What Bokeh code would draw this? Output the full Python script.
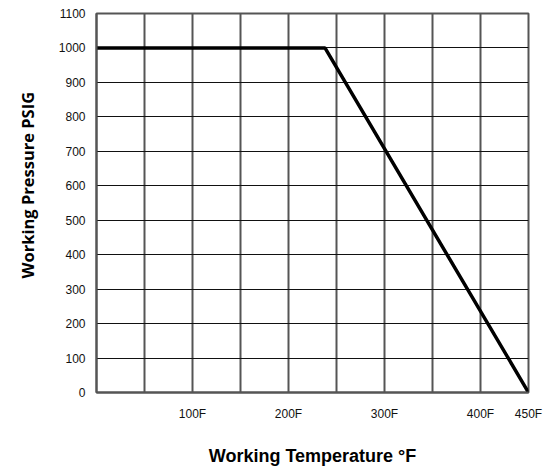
from bokeh.plotting import figure
from bokeh.models import FixedTicker, Title, Range1d
from bokeh.embed import file_html
from bokeh.resources import INLINE

temps = [0, 238, 450]
pressure = [1000, 1000, 0]
x_label_ticks = [100, 200, 300, 400, 450]
x_label_text = ["100F", "200F", "300F", "400F", "450F"]
x_grid_ticks = [0, 50, 100, 150, 200, 250, 300, 350, 400, 450]
y_ticks = [0, 100, 200, 300, 400, 500, 600, 700, 800, 900, 1000, 1100]

p = figure(output_backend="svg", toolbar_location=None,
           frame_width=432, frame_height=379,
           min_border_left=96, min_border_right=28, min_border_top=13, min_border_bottom=74,
           x_range=Range1d(0, 450), y_range=Range1d(0, 1100))
p.background_fill_color = "white"
p.border_fill_color = "white"
p.outline_line_color = "#555555"
p.outline_line_width = 2

p.line(temps, pressure, line_color="black", line_width=3.5)

p.xaxis.ticker = FixedTicker(ticks=x_label_ticks)
p.xaxis.major_label_overrides = {t: s for t, s in zip(x_label_ticks, x_label_text)}
p.yaxis.ticker = FixedTicker(ticks=y_ticks)
p.xgrid.ticker = FixedTicker(ticks=x_grid_ticks)
p.ygrid.ticker = FixedTicker(ticks=y_ticks)

p.xgrid.grid_line_color = "#555555"
p.xgrid.grid_line_width = 2
p.xgrid.grid_line_alpha = 1
p.ygrid.grid_line_color = "#111111"
p.ygrid.grid_line_width = 1
p.ygrid.grid_line_alpha = 1

for ax in (p.xaxis[0], p.yaxis[0]):
    ax.axis_line_color = "#555555"
    ax.axis_line_width = 2
    ax.major_tick_line_color = None
    ax.minor_tick_line_color = None
    ax.major_tick_out = 0
    ax.major_tick_in = 0
    ax.minor_tick_out = 0
    ax.minor_tick_in = 0
    ax.major_label_text_font = "Liberation Sans"
    ax.major_label_text_font_size = "12px"
    ax.major_label_text_color = "#111111"

p.xaxis.major_label_standoff = 14
p.yaxis.major_label_standoff = 11

p.xaxis.axis_label = "Working Temperature °F"
p.xaxis.axis_label_text_font = "Liberation Sans"
p.xaxis.axis_label_text_font_size = "18px"
p.xaxis.axis_label_text_font_style = "bold"
p.xaxis.axis_label_text_color = "black"
p.xaxis.axis_label_standoff = 22

ytitle = Title(text="Working Pressure PSIG", align="left", offset=114,
               vertical_align="top",
               text_font="Open Sans", text_font_size="16.5px", text_font_style="bold",
               text_color="black", standoff=30)
p.add_layout(ytitle, "left")

open("out.html", "w").write(file_html(p, INLINE))
